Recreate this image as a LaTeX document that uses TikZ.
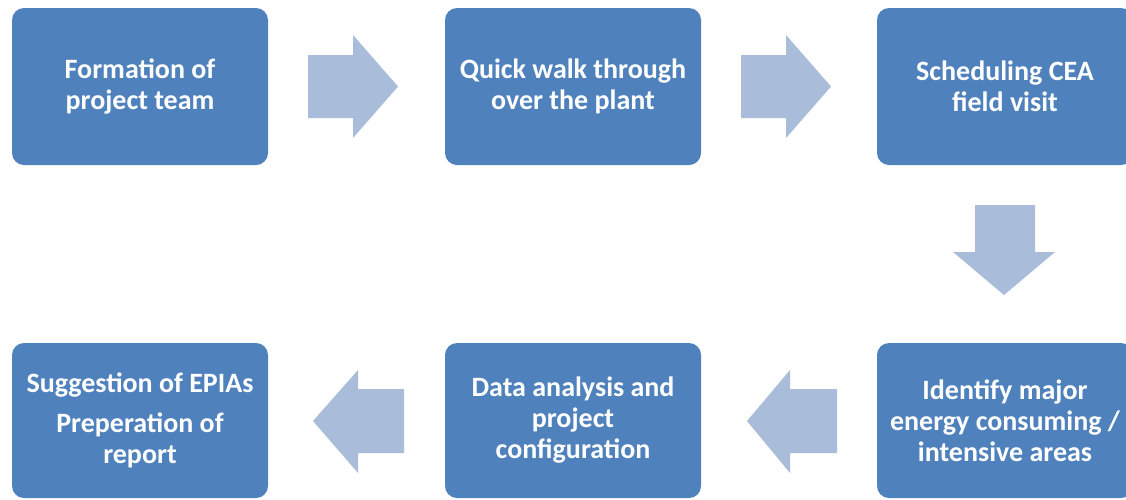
\documentclass[tikz,border=0pt]{standalone}
\usepackage{fontspec}
\setmainfont{Carlito}
\definecolor{boxblue}{HTML}{4F81BD}
\definecolor{arrowblue}{HTML}{A9BCDA}
\tikzset{
  stepbox/.style={fill=boxblue, rounded corners=12pt, minimum width=256pt, minimum height=157pt, inner sep=0pt,
    text=white, align=center, font=\fontsize{28}{31}\selectfont\bfseries},
  blockarrow/.style={fill=arrowblue, draw=none}
}
\begin{document}
\begin{tikzpicture}[x=1pt,y=-1pt]
\clip (0,0) rectangle (1126,499);
\fill[white] (0,0) rectangle (1126,499);
% boxes
\node[stepbox] (b1) at (140,86.5) {Formation of\\project team};
\node[stepbox] (b2) at (573,86.5) {Quick walk through\\over the plant};
\node[stepbox] (b3) at (1005,86.5) {Scheduling CEA\\field visit};
\node[stepbox, minimum height=155pt] (b6) at (1005,420.5) {Identify major\\energy consuming /\\intensive areas};
\node[stepbox, minimum height=155pt] (b5) at (573,420.5) {Data analysis and\\project\\configuration};
\node[stepbox, minimum height=155pt] (b4) at (140,420.5) {Suggestion of EPIAs\\[9pt]Preperation of\\report};
% block arrows
\fill[blockarrow] (308,55) -- (353,55) -- (353,35) -- (398,86.5) -- (353,138) -- (353,118) -- (308,118) -- cycle;
\fill[blockarrow] (741,55) -- (786,55) -- (786,35) -- (831,86.5) -- (786,138) -- (786,118) -- (741,118) -- cycle;
\fill[blockarrow] (975,205) -- (1035,205) -- (1035,252) -- (1055,252) -- (1004,295) -- (953,252) -- (975,252) -- cycle;
\fill[blockarrow] (837,389) -- (790,389) -- (790,370) -- (747,421) -- (790,473) -- (790,453) -- (837,453) -- cycle;
\fill[blockarrow] (404,389) -- (358,389) -- (358,370) -- (313,421) -- (358,473) -- (358,453) -- (404,453) -- cycle;
\end{tikzpicture}
\end{document}
